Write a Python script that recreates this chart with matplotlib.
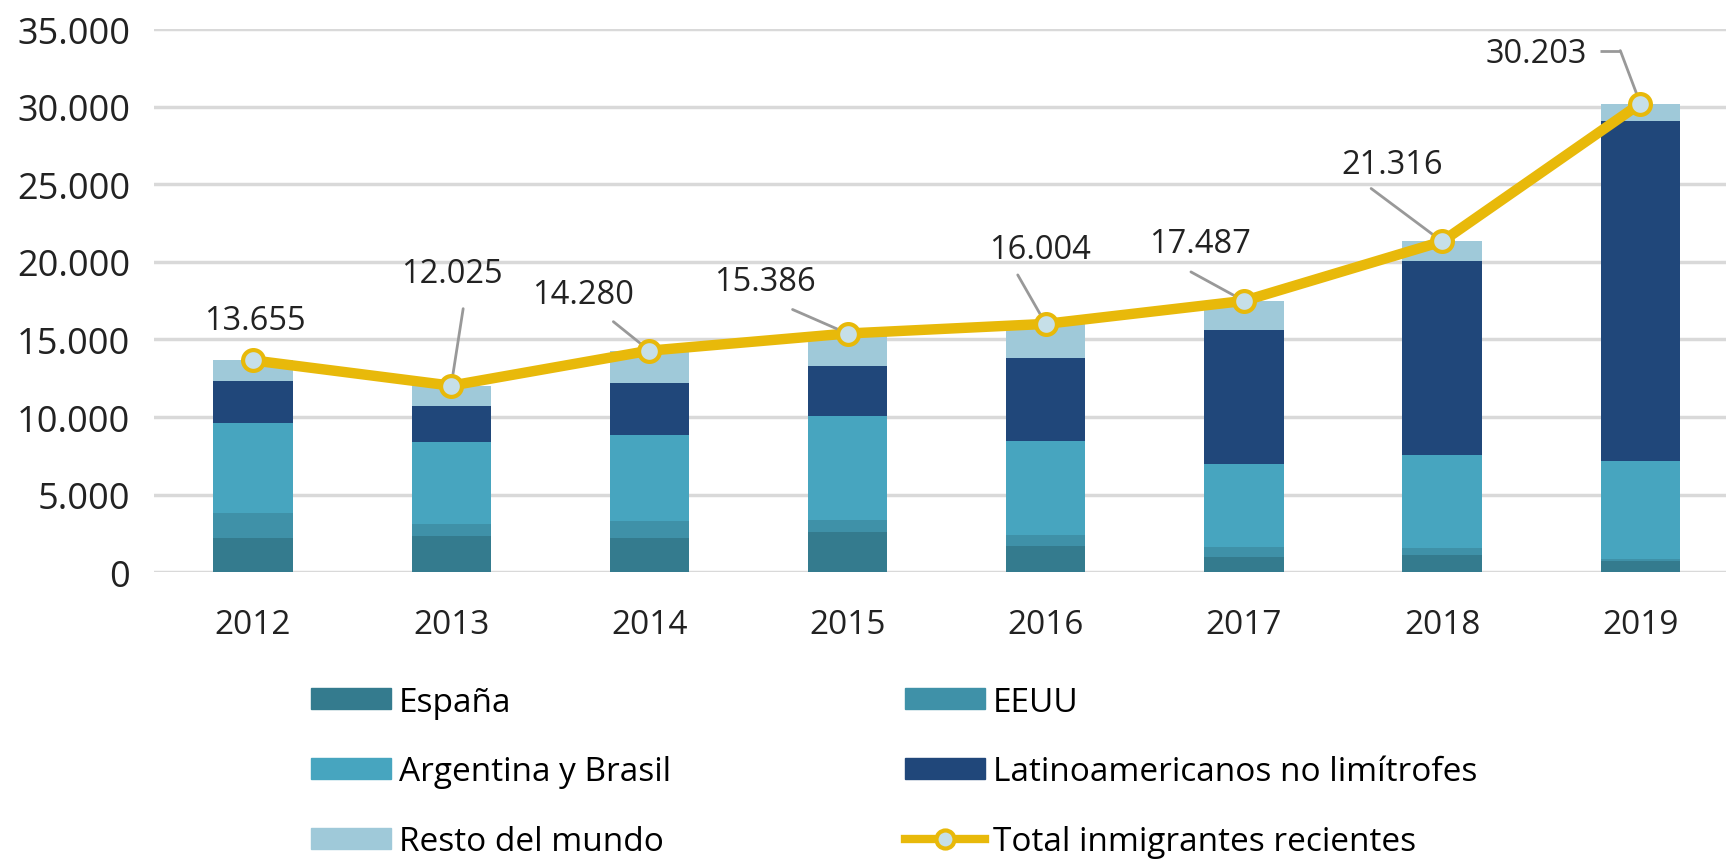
import matplotlib.pyplot as plt
from matplotlib.lines import Line2D
from matplotlib.patches import Patch

years = ["2012", "2013", "2014", "2015", "2016", "2017", "2018", "2019"]
espana = [2208, 2357, 2200, 2576, 1710, 990, 1140, 730]
eeuu = [1603, 760, 1070, 820, 714, 640, 390, 100]
arg_bra = [5799, 5260, 5600, 6649, 6063, 5330, 6020, 6360]
latino = [2708, 2318, 3340, 3247, 5299, 8660, 12500, 21860]
resto = [1337, 1330, 2070, 2094, 2218, 1867, 1266, 1153]
totals = [13655, 12025, 14280, 15386, 16004, 17487, 21316, 30203]

series = [
    ("España", espana, "#347b8e"),
    ("EEUU", eeuu, "#3f91a8"),
    ("Argentina y Brasil", arg_bra, "#47a5bf"),
    ("Latinoamericanos no limítrofes", latino, "#20477a"),
    ("Resto del mundo", resto, "#9fc9d9"),
]

plt.rcParams['font.family'] = ['Open Sans', 'DejaVu Sans']

fig = plt.figure(figsize=(17.29, 8.62), dpi=100)
ax = fig.add_axes([0.089, 0.335, 0.909, 0.63])

x = list(range(len(years)))
bottom = [0] * len(years)
for name, vals, col in series:
    ax.bar(x, vals, width=0.4, bottom=bottom, color=col, zorder=2)
    bottom = [b + v for b, v in zip(bottom, vals)]

line_col = "#e8b90a"
ax.plot(x, totals, color=line_col, lw=7.5, zorder=3, solid_capstyle='round')
ax.plot(x, totals, 'o', ms=15, mfc="#c6dfe8", mec=line_col, mew=3, zorder=4)

ax.set_ylim(0, 35000)
ax.set_xlim(-0.5, 7.43)

# label offsets (pixels) and connector start points
label_off = [(2, 40), (1, 112), (-66, 56), (-83, 52), (-6, 74), (-44, 57), (-50, 77), (-104, 50)]
line_start = [None, (12, 77), (-36, 29), (-55, 24), (-28, 49), (-53, 29), (-71, 53), (-20, 53)]

def fmt(v):
    return f"{v:,}".replace(",", ".")

for i, t in enumerate(totals):
    ax.annotate(fmt(t), (x[i], t), xytext=label_off[i], textcoords='offset pixels',
                ha='center', va='center', fontsize=23.5, color='#222222', zorder=5)
    if line_start[i] is not None:
        ax.annotate('', (x[i], t), xytext=line_start[i], textcoords='offset pixels',
                    arrowprops=dict(arrowstyle='-', color='#999999', lw=2,
                                    shrinkA=0, shrinkB=4), zorder=3)

# short horizontal piece on the 2019 connector (display coords)
px, py = ax.transData.transform((x[-1], totals[-1]))
fig.add_artist(Line2D([px - 40, px - 20], [py + 53, py + 53], transform=None,
                      color='#999999', lw=2, solid_capstyle='butt'))

ax.set_yticks(range(0, 35001, 5000))
ax.set_yticklabels([fmt(v) for v in range(0, 35001, 5000)], fontsize=26, color='#222222')
ax.set_xticks(x)
ax.set_xticklabels(years, fontsize=24, color='#222222')
ax.tick_params(axis='x', length=0, pad=26)
ax.tick_params(axis='y', length=0, pad=17)
ax.yaxis.grid(True, color='#d9d9d9', lw=2.5, zorder=0)
ax.set_axisbelow(True)
for s in ax.spines.values():
    s.set_visible(False)

h = [Patch(color=c) for _, _, c in series]
h.append(Line2D([], [], color=line_col, lw=6, marker='o', ms=13,
                mfc="#c6dfe8", mec=line_col, mew=3))
labels = [s[0] for s in series] + ["Total inmigrantes recientes"]
order = [0, 2, 4, 1, 3, 5]
fig.legend([h[i] for i in order], [labels[i] for i in order], ncol=2,
           loc='upper left', bbox_to_anchor=(0.172, 0.219), frameon=False,
           handlelength=2.4, handleheight=0.6, handletextpad=0.25,
           columnspacing=7.0, labelspacing=1.1, borderaxespad=0,
           prop={'family': ['Open Sans'], 'size': 24})

fig.savefig("out.png", dpi=100)
